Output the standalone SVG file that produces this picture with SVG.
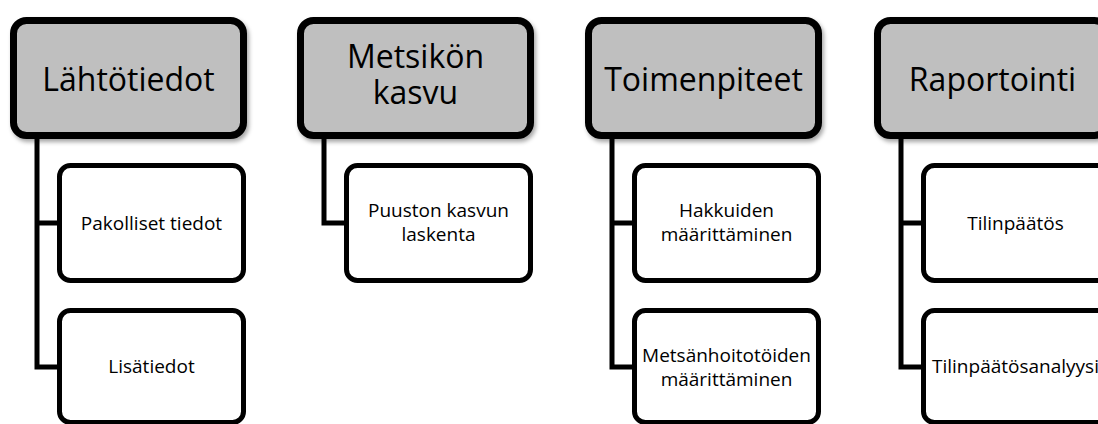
<svg xmlns="http://www.w3.org/2000/svg" width="1098" height="424" viewBox="0 0 1098 424">
<defs>
<filter id="sh" x="-10%" y="-10%" width="125%" height="130%">
<feDropShadow dx="2" dy="3" stdDeviation="2" flood-color="#000" flood-opacity="0.35"/>
</filter>
<style>
.p{fill:#bfbfbf;stroke:#000;stroke-width:7;filter:url(#sh)}
.c{fill:#fff;stroke:#000;stroke-width:5}
.pt{font-family:"Open Sans","DejaVu Sans",sans-serif;font-size:32px;fill:#000;text-anchor:middle}
.ct{font-family:"Open Sans","DejaVu Sans",sans-serif;font-size:19px;fill:#000;text-anchor:middle}
.ln{fill:none;stroke:#000;stroke-width:5;stroke-linejoin:miter}
</style>
</defs>
<rect width="1098" height="424" fill="#fff"/>
<g id="connectors">
<path class="ln" d="M37 138 V367 H60 M37 223 H60"/>
<path class="ln" d="M324 138 V223 H347"/>
<path class="ln" d="M612 138 V367 H635 M612 223 H635"/>
<path class="ln" d="M901 138 V367 H924 M901 223 H924"/>
</g>
<g id="lahtotiedot">
<rect class="p" x="13.5" y="20.5" width="230" height="115" rx="13"/>
<text class="pt" x="128.5" y="91">Lähtötiedot</text>
</g>
<g id="pakolliset">
<rect class="c" x="59.5" y="165.5" width="184" height="115" rx="11"/>
<text class="ct" x="151.5" y="230">Pakolliset tiedot</text>
</g>
<g id="lisatiedot">
<rect class="c" x="59.5" y="310.5" width="184" height="112" rx="11"/>
<text class="ct" x="151.5" y="373">Lisätiedot</text>
</g>
<g id="metsikon">
<rect class="p" x="300.5" y="20.5" width="230" height="115" rx="13"/>
<text class="pt" x="415.5" y="68">Metsikön</text>
<text class="pt" x="415.5" y="104">kasvu</text>
</g>
<g id="puuston">
<rect class="c" x="346.5" y="165.5" width="184" height="115" rx="11"/>
<text class="ct" x="438.5" y="217">Puuston kasvun</text>
<text class="ct" x="438.5" y="241">laskenta</text>
</g>
<g id="toimenpiteet">
<rect class="p" x="588.5" y="20.5" width="230" height="115" rx="13"/>
<text class="pt" x="703.5" y="91">Toimenpiteet</text>
</g>
<g id="hakkuiden">
<rect class="c" x="634.5" y="165.5" width="184" height="115" rx="11"/>
<text class="ct" x="726.5" y="217">Hakkuiden</text>
<text class="ct" x="726.5" y="241">määrittäminen</text>
</g>
<g id="metsanhoito">
<rect class="c" x="634.5" y="310.5" width="184" height="112" rx="11"/>
<text class="ct" x="726.5" y="362">Metsänhoitotöiden</text>
<text class="ct" x="726.5" y="386">määrittäminen</text>
</g>
<g id="raportointi">
<rect class="p" x="877.5" y="20.5" width="230" height="115" rx="13"/>
<text class="pt" x="992.5" y="91">Raportointi</text>
</g>
<g id="tilinpaatos">
<rect class="c" x="923.5" y="165.5" width="184" height="115" rx="11"/>
<text class="ct" x="1015.5" y="230">Tilinpäätös</text>
</g>
<g id="analyysi">
<rect class="c" x="923.5" y="310.5" width="184" height="112" rx="11"/>
<text class="ct" x="1015.5" y="373">Tilinpäätösanalyysi</text>
</g>
</svg>
